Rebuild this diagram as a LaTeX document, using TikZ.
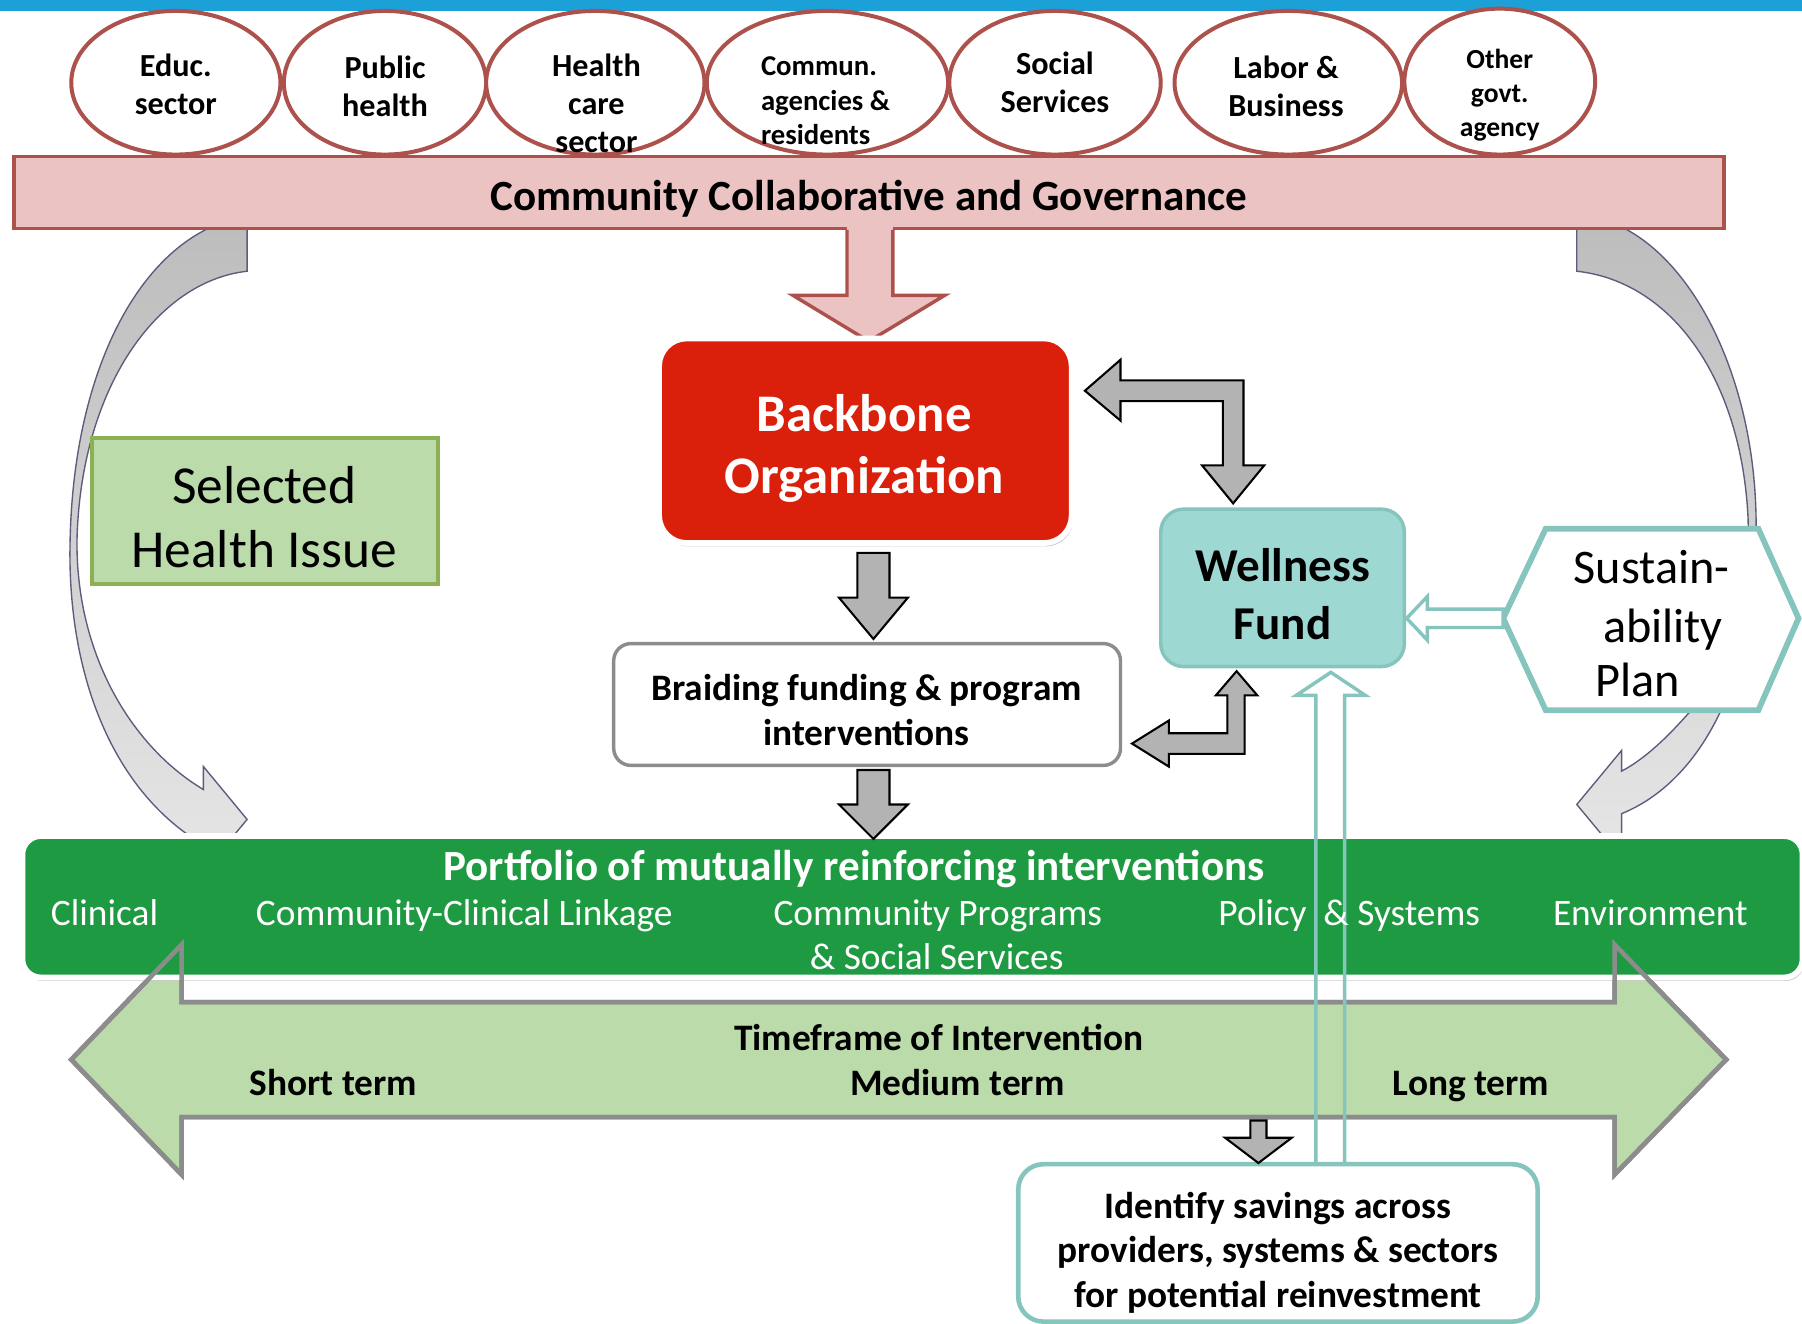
\documentclass[tikz,border=0pt]{standalone}
\usepackage{fontspec}
\setmainfont{Carlito}
\usetikzlibrary{shapes.geometric,shadows}
\definecolor{topblue}{HTML}{1CA0D8}
\definecolor{pinkfill}{HTML}{EBC3C2}
\definecolor{brownline}{HTML}{AD514D}
\definecolor{bbred}{HTML}{DA1F0A}
\definecolor{lgreen}{HTML}{BBDCAA}
\definecolor{oliveline}{HTML}{8DB055}
\definecolor{tealfill}{HTML}{9ED8D2}
\definecolor{tealline}{HTML}{86C5BD}
\definecolor{garrow}{HTML}{B3B3B3}
\definecolor{gline}{HTML}{8C8C8C}
\definecolor{pgreen}{HTML}{1E9A42}
\definecolor{cdark}{HTML}{BDBDBD}
\definecolor{clight}{HTML}{E6E6E6}
\definecolor{cline}{HTML}{5F5B7D}
\newcommand\fsz[2]{\fontsize{#1}{#2}\selectfont}
\begin{document}
\begin{tikzpicture}[x=1pt,y=-1pt,
  sectorc/.style={ellipse, draw=brownline, line width=3.5, fill=white, inner sep=0, minimum height=125},
  sectort/.style={align=center, font=\bfseries\fsz{28}{33}, inner sep=0},
  lbl/.style={inner sep=0, align=center},
  blockarrow/.style={fill=garrow, draw=black, line width=1.8, line join=miter},
  curvearrow/.style={top color=cdark, bottom color=clight, draw=cline, line width=1.2},
  tealarrow/.style={draw=tealline, line width=3, line join=miter},
  softshadow/.style={drop shadow={shadow xshift=1.5pt, shadow yshift=-3pt, opacity=0.4}}
]
\useasboundingbox (0,0) rectangle (1568,1152);
\fill[topblue] (0,0) rectangle (1568,10);

% curved arrows (behind everything)
\shadedraw[curvearrow] (215,197) -- (215,236) .. controls (135,245) and (70,340) .. (67,470)
  .. controls (66,570) and (115,650) .. (177,687) -- (177,667) -- (215,713) -- (177,759) -- (177,735)
  .. controls (100,690) and (58,590) .. (61,470) .. controls (64,330) and (115,228) .. (185,197) -- cycle;
\shadedraw[curvearrow] (1372,197) -- (1372,236) .. controls (1455,245) and (1515,330) .. (1521,450)
  .. controls (1524,530) and (1500,590) .. (1468,622) .. controls (1452,640) and (1432,660) .. (1411,671)
  -- (1411,653) -- (1372,700) -- (1411,747) -- (1411,708)
  .. controls (1480,680) and (1530,590) .. (1528,450) .. controls (1526,330) and (1475,228) .. (1410,197) -- cycle;

% top bar and sectors
\node[rectangle, fill=pinkfill, draw=brownline, line width=3, minimum width=1488, minimum height=63, inner sep=0] (cbar) at (756,167.5) {};
\node[sectorc, minimum width=182] (c1) at (153,72) {};
\node[sectorc, minimum width=176] (c2) at (335,72) {};
\node[sectorc, minimum width=190] (c3) at (518,72) {};
\node[sectorc, minimum width=210] (c4) at (720,72) {};
\node[sectorc, minimum width=184] (c5) at (918,72) {};
\node[sectorc, minimum width=198] (c6) at (1121,72) {};
\node[sectorc, minimum width=166, minimum height=127] (c7) at (1305,71) {};
\node[sectort] (t1) at (153,73) {Educ.\\sector};
\node[sectort] (t2) at (335,75) {Public\\health};
\node[sectort] (t3) at (519,90) {Health\\care\\sector};
\node[lbl, align=left, anchor=west, font=\bfseries\fsz{25}{30}] (t4) at (662,88) {Commun.\\agencies \&\\residents};
\node[sectort] (t5) at (918,71.5) {Social\\Services};
\node[sectort] (t6) at (1119,75.5) {Labor \&\\Business};
\node[lbl, font=\bfseries\fsz{24}{29.5}] (t7) at (1305,82.5) {Other\\govt.\\agency};
\node[lbl, anchor=base, font=\bfseries\fsz{37.5}{44}] (cbartext) at (756,183) {Community Collaborative and Governance};

% pink arrow
\fill[pinkfill] (737,196) -- (737,257) -- (690,257) -- (756,297) -- (822,257) -- (777,257) -- (777,196) -- cycle;
\draw[brownline, line width=3, line join=miter] (737,200) -- (737,257) -- (690,257) -- (756,297) -- (822,257) -- (777,257) -- (777,200);

% timeframe arrow
\def\tfpath{(62,922) -- (158,822) -- (158,872) -- (1405,872) -- (1405,822) -- (1502,922) -- (1405,1022) -- (1405,972) -- (158,972) -- (158,1022) -- cycle}
\fill[lgreen] \tfpath;
\draw[gline, line width=4, line join=miter] \tfpath;

% portfolio bar
\node[rectangle, rounded corners=16, fill=pgreen, draw=white, line width=5, minimum width=1549, minimum height=123, inner sep=0, softshadow] (port) at (794,789) {};
\draw[gline, line width=4, line join=miter] \tfpath;

% boxes
\node[rectangle, fill=lgreen, draw=oliveline, line width=3, minimum width=301, minimum height=127, inner sep=0] (sel) at (230.5,444.5) {};
\node[rectangle, rounded corners=24, fill=bbred, draw=white, line width=5, minimum width=359, minimum height=178, inner sep=0, softshadow] (bb) at (753,383.5) {};
\node[rectangle, rounded corners=15, fill=white, draw=gline, line width=3, minimum width=441, minimum height=106, inner sep=0] (braid) at (754.5,613) {};
\node[rectangle, rounded corners=20, fill=tealfill, draw=tealline, line width=3, minimum width=212, minimum height=137, inner sep=0] (well) at (1116,511.5) {};
\node[rectangle, rounded corners=22, fill=white, draw=tealline, line width=4, minimum width=452, minimum height=137, inner sep=0] (ident) at (1112,1081.5) {};
\filldraw[fill=white, draw=tealline, line width=5, line join=miter] (1308,538) -- (1345,460) -- (1530,460) -- (1565,538) -- (1530,618) -- (1345,618) -- cycle;

% gray block arrows
\draw[blockarrow] (746,481) -- (774,481) -- (774,520) -- (790,520) -- (760,556) -- (730,520) -- (746,520) -- cycle;
\draw[blockarrow] (746,670) -- (774,670) -- (774,700) -- (790,700) -- (760,730) -- (730,700) -- (746,700) -- cycle;
\draw[blockarrow] (944,340) -- (975,313) -- (975,331) -- (1082,331) -- (1082,405) -- (1100,405) -- (1073,438) -- (1046,405) -- (1064,405) -- (1064,349) -- (975,349) -- (975,366) -- cycle;
\draw[blockarrow] (985,647) -- (1017,627) -- (1017,638) -- (1068,638) -- (1068,605) -- (1058,605) -- (1076,584) -- (1094,605) -- (1083,605) -- (1083,656) -- (1017,656) -- (1017,667) -- cycle;
\draw[blockarrow] (1088,975) -- (1102,975) -- (1102,990) -- (1124,990) -- (1095,1012) -- (1066,990) -- (1088,990) -- cycle;

% teal arrows
\filldraw[tealarrow, fill=white] (1224,538) -- (1242,519) -- (1242,530) -- (1308,530) -- (1308,546) -- (1242,546) -- (1242,557) -- cycle;
\draw[tealarrow] (1145,1013) -- (1145,605) -- (1128,605) -- (1158,585) -- (1188,605) -- (1170,605) -- (1170,1013) -- cycle;

% texts
\node[lbl, font=\bfseries\fsz{46}{54}, text=white] (bbt) at (752,390) {Backbone\\Organization};
\node[lbl, font=\fsz{46.5}{56}] (selt) at (230,450) {Selected\\Health Issue};
\node[lbl, font=\bfseries\fsz{41}{50}] (wellt) at (1116,517) {Wellness\\Fund};
\node[lbl, font=\bfseries\fsz{32.5}{39}] (braidt) at (754,617.5) {Braiding funding \& program\\interventions};
\node[lbl, font=\bfseries\fsz{32.5}{39}] (identt) at (1112,1090) {Identify savings across\\providers, systems \& sectors\\for potential reinvestment};
\node[lbl, anchor=base, font=\fsz{42}{50}] (s1) at (1437,508) {Sustain-};
\node[lbl, anchor=base, font=\fsz{42}{50}] (s2) at (1447,559) {ability};
\node[lbl, anchor=base, font=\fsz{42}{50}] (s3) at (1425,606) {Plan};

\node[lbl, anchor=base, font=\bfseries\fsz{37.5}{44}, text=white] (pt) at (743,766) {Portfolio of mutually reinforcing interventions};
\begin{scope}[every node/.style={lbl, anchor=base, font=\fsz{32.5}{39}, text=white}]
\node (p1) at (91,805.5) {Clinical};
\node (p2) at (404,805.5) {Community-Clinical Linkage};
\node (p3) at (816,805.5) {Community Programs};
\node (p3b) at (815,843.5) {\& Social Services};
\node (p4) at (1174,805.5) {Policy\ \ \& Systems};
\node (p5) at (1436,805.5) {Environment};
\end{scope}
\begin{scope}[every node/.style={lbl, anchor=base, font=\bfseries\fsz{32.5}{39}}]
\node (tf) at (817,914.5) {Timeframe of Intervention};
\node (st) at (290,953.5) {Short term};
\node (mt) at (833,953.5) {Medium term};
\node (lt) at (1280,953.5) {Long term};
\end{scope}
\end{tikzpicture}
\end{document}
